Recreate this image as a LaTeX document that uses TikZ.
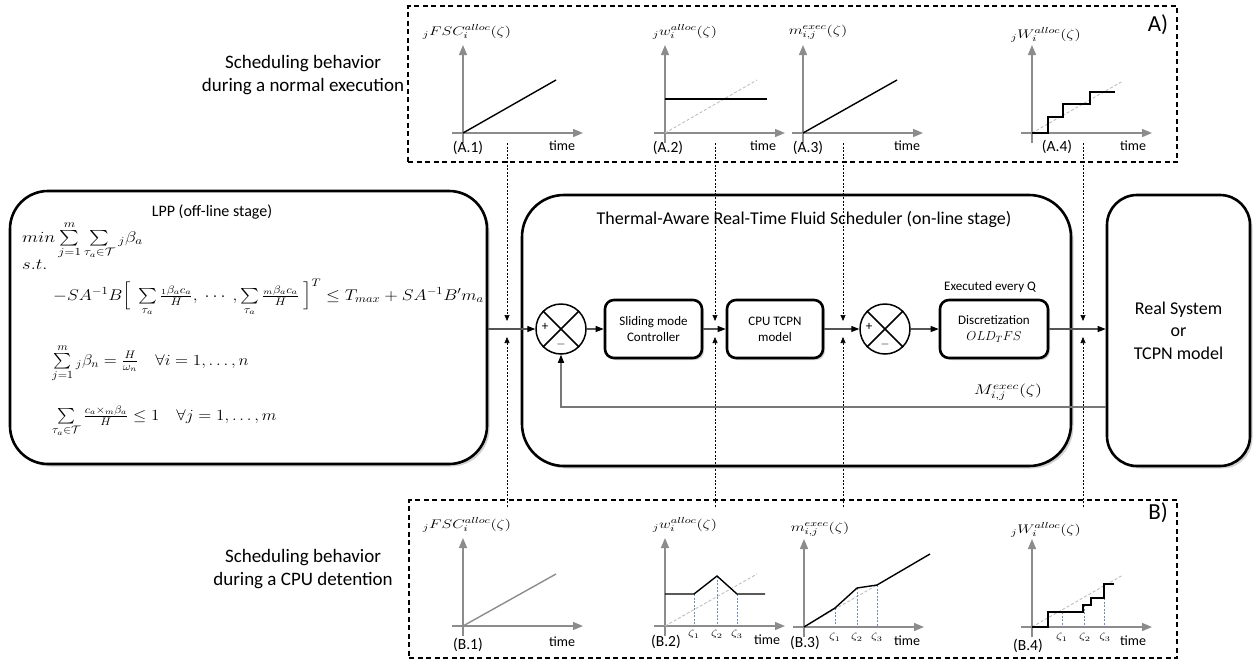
\RequirePackage{fix-cm}
\documentclass[tikz,border=0pt]{standalone}
\usepackage{amsmath,amssymb}
\usepackage{graphicx}
\usepackage{fontspec}
\setmainfont{Carlito}
\usetikzlibrary{arrows.meta,shadows}
\definecolor{axgray}{RGB}{140,140,140}
\definecolor{refgray}{RGB}{190,190,190}
\definecolor{zblue}{RGB}{110,140,185}
\definecolor{flowgray}{RGB}{85,85,85}
\newcommand{\mth}[1]{\scalebox{1.3}[1]{$#1$}}
\newcommand{\mthx}[2]{\scalebox{#1}[1]{$#2$}}
\newcommand{\plotaxes}[2]{%
  \draw[axisst] (#1-11,#2) -- (#1+120,#2);
  \draw[axisst] (#1,#2+10) -- (#1,#2-88);}
\begin{document}
\begin{tikzpicture}[x=1pt,y=-1pt,
  bigbox/.style={draw=black,line width=2.6pt,fill=white,drop shadow={shadow xshift=2.5pt,shadow yshift=-2.5pt,opacity=0.35}},
  blockbox/.style={draw=black,line width=2.6pt,rounded corners=9pt,fill=white,drop shadow={shadow xshift=2pt,shadow yshift=-2pt,opacity=0.35},minimum height=58pt,align=center,inner sep=0pt,font=\fontsize{13}{16}\selectfont},
  sumnode/.style={circle,draw=black,line width=1.5pt,minimum size=50pt,inner sep=0pt,fill=white},
  flow/.style={draw=flowgray,line width=1.1pt,-{Triangle[length=8pt,width=6pt,color=black]}},
  fback/.style={draw=flowgray!80,line width=1.1pt,-{Triangle[length=8pt,width=6pt,color=black]}},
  probe/.style={draw=black,line width=0.6pt,dash pattern=on 2pt off 1.6pt,-{Triangle[length=6pt,width=5pt]}},
  dashframe/.style={draw=black,line width=1.2pt,dash pattern=on 5pt off 3.5pt,inner sep=0pt},
  axisst/.style={draw=axgray,line width=1.4pt,-{Triangle[length=10pt,width=8pt]}},
  blackcurve/.style={draw=black,line width=1.4pt},
  refline/.style={draw=refgray,line width=0.9pt,dash pattern=on 3pt off 2pt},
  zline/.style={draw=zblue,line width=0.7pt,dash pattern=on 2pt off 1.5pt},
  bigtxt/.style={inner sep=0pt,font=\fontsize{19}{22.5}\selectfont,align=center},
  plab/.style={inner sep=0pt,font=\fontsize{15.5}{18}\selectfont},
  tlab/.style={inner sep=0pt,font=\fontsize{14}{17}\selectfont},
  mlab/.style={inner sep=0pt,font=\fontsize{12.5}{14}\selectfont},
  zlab/.style={inner sep=0pt,font=\fontsize{10}{11}\selectfont},
  eqn/.style={inner sep=0pt,anchor=base west,font=\fontsize{15.5}{19}\selectfont},
]
\useasboundingbox (0,0) rectangle (1254,662);

% dashed frames
\node[dashframe,minimum width=769pt,minimum height=156pt] (frameA) at (792.5,84) {};
\node[dashframe,minimum width=768pt,minimum height=158pt] (frameB) at (793,579) {};
\node[inner sep=0pt,font=\fontsize{23}{26}\selectfont] (labA) at (1158,25) {A)};
\node[inner sep=0pt,font=\fontsize{23}{26}\selectfont] (labB) at (1158,513) {B)};
\node[bigtxt] (descA) at (303,75) {Scheduling behavior\\during a normal execution};
\node[bigtxt] (descB) at (303,569) {Scheduling behavior\\during a CPU detention};

% big boxes
\node[bigbox,rounded corners=38pt,minimum width=477pt,minimum height=273pt] (lpp) at (248.5,327.5) {};
\node[bigbox,rounded corners=42pt,minimum width=549pt,minimum height=271pt] (sched) at (796.5,330.5) {};
\node[bigbox,rounded corners=30pt,minimum width=143pt,minimum height=271pt,align=center,font=\fontsize{18}{22.5}\selectfont] (real) at (1178.5,330.5) {Real System\\or\\TCPN model};

\node[inner sep=0pt,font=\fontsize{16}{19}\selectfont] (lpptitle) at (212,212) {LPP (off-line stage)};
\node[inner sep=0pt,font=\fontsize{18}{21}\selectfont] (schedtitle) at (804,219) {Thermal-Aware Real-Time Fluid Scheduler (on-line stage)};

% LPP equations
\node[eqn] (eq1) at (22,242) {\mthx{1.2}{min\sum\limits_{j=1}^{m}\sum\limits_{\tau_a\in\mathcal{T}}{}_j\beta_a}};
\node[eqn] (eq2) at (22,269) {\mthx{1.2}{s.t.}};
\node[eqn] (eq3) at (53,300) {\mthx{1.15}{-SA^{-1}B\Big[\ \sum\limits_{\tau_a}\tfrac{{}_1\beta_a c_a}{H},\ \cdots\ ,\sum\limits_{\tau_a}\tfrac{{}_m\beta_a c_a}{H}\ \Big]^T\leq T_{max}+SA^{-1}B'm_a}};
\node[eqn] (eq4) at (52,365) {\mthx{1.1}{\sum\limits_{j=1}^{m}{}_j\beta_n=\tfrac{H}{\omega_n}\quad\forall i=1,\ldots,n}};
\node[eqn] (eq5) at (52,420) {\mthx{1.1}{\sum\limits_{\tau_a\in\mathcal{T}}\tfrac{c_a\times{}_m\beta_a}{H}\leq 1\quad\forall j=1,\ldots,m}};

% control loop
\node[sumnode] (c1) at (561,329) {};
\draw[line width=1.5pt] (c1.north west) -- (c1.south east) (c1.north east) -- (c1.south west);
\node[inner sep=0pt,font=\fontsize{13}{13}\selectfont] (c1p) at (545,327) {+};
\node[inner sep=0pt,font=\fontsize{12}{12}\selectfont] (c1m) at (561,344) {$-$};
\node[sumnode] (c2) at (885,329) {};
\draw[line width=1.5pt] (c2.north west) -- (c2.south east) (c2.north east) -- (c2.south west);
\node[inner sep=0pt,font=\fontsize{13}{13}\selectfont] (c2p) at (869,327) {+};
\node[inner sep=0pt,font=\fontsize{12}{12}\selectfont] (c2m) at (885,344) {$-$};

\node[blockbox,minimum width=97pt] (slide) at (653.5,329) {Sliding mode\\Controller};
\node[blockbox,minimum width=96pt] (cpu) at (775,329) {CPU TCPN\\model};
\node[blockbox,minimum width=108pt] (disc) at (994,329) {Discretization\\$OLD_{T}FS$};
\node[inner sep=0pt,font=\fontsize{13}{16}\selectfont] (every) at (990,287) {Executed every Q};

\draw[flow] (lpp.east |- c1.west) -- (c1.west);
\draw[flow] (c1.east) -- (slide.west);
\draw[flow] (slide.east) -- (cpu.west);
\draw[flow] (cpu.east) -- (c2.west);
\draw[flow] (c2.east) -- (disc.west);
\draw[flow] (disc.east) -- (disc.east -| real.west);

\coordinate (fbturn) at (561,407);
\draw[fback] (real.west |- fbturn) -- (fbturn) -- (c1.south);
\node[inner sep=0pt,font=\fontsize{14}{16}\selectfont] (mlabel) at (1008,392) {\mth{M_{i,j}^{exec}(\zeta)}};

% probes
\foreach \x [count=\i] in {507,715,843,1083} {
  \coordinate (pa\i) at (\x,143);
  \coordinate (pb\i) at (\x,321);
  \coordinate (pc\i) at (\x,507);
  \coordinate (pd\i) at (\x,337);
  \draw[probe] (pa\i) -- (pb\i);
  \draw[probe] (pc\i) -- (pd\i);
}

% ---------- plots A ----------
\plotaxes{463}{133}
\draw[blackcurve] (463,133) -- (556,80);
\plotaxes{665}{133}
\draw[refline] (665,133) -- (757,80);
\draw[blackcurve] (665,99) -- (767,99);
\plotaxes{803}{133}
\draw[blackcurve] (803,133) -- (897,80);
\plotaxes{1032}{133}
\draw[refline] (1032,133) -- (1123,81);
\draw[blackcurve] (1032,133) -| (1048,117) -| (1063,104) -| (1090,92) -- (1115,92);

\node[mlab] (la1) at (467,32) {\mth{{}_jFSC_i^{alloc}(\zeta)}};
\node[mlab] (la2) at (685,32) {\mth{{}_jw_i^{alloc}(\zeta)}};
\node[mlab] (la3) at (818,32) {\mth{m_{i,j}^{exec}(\zeta)}};
\node[mlab] (la4) at (1046,35) {\mth{{}_jW_i^{alloc}(\zeta)}};
\node[plab] (na1) at (468,148) {(A.1)};
\node[plab] (na2) at (668,148) {(A.2)};
\node[plab] (na3) at (808,148) {(A.3)};
\node[plab] (na4) at (1057,147) {(A.4)};
\node[tlab] (ta1) at (562,146) {time};
\node[tlab] (ta2) at (763,146) {time};
\node[tlab] (ta3) at (907,146) {time};
\node[tlab] (ta4) at (1133,146) {time};

% ---------- plots B ----------
\plotaxes{463}{626}
\draw[draw=axgray,line width=1.4pt] (463,626) -- (556,574);
\plotaxes{665}{626}
\draw[refline] (665,626) -- (757,574);
\draw[zline] (694,594) -- (694,626) (717,576) -- (717,626) (737,594) -- (737,626);
\draw[blackcurve] (665,594) -- (694,594) -- (717,576) -- (737,594) -- (765,594);
\plotaxes{804}{627}
\draw[refline] (804,627) -- (877,585);
\draw[zline] (835,608) -- (835,627) (857,588) -- (857,627) (877,585) -- (877,627);
\draw[blackcurve] (804,627) -- (835,608) -- (857,588) -- (877,585) -- (930,554);
\plotaxes{1032}{627}
\draw[refline] (1032,627) -- (1123,575);
\draw[zline] (1062,612) -- (1062,627) (1084,605) -- (1084,627) (1104,584) -- (1104,627);
\draw[blackcurve] (1032,627) -| (1048,612) -| (1083,605) -| (1091,598) -| (1104,584) -- (1114,584);

\node[mlab] (lb1) at (467,525) {\mth{{}_jFSC_i^{alloc}(\zeta)}};
\node[mlab] (lb2) at (685,525) {\mth{{}_jw_i^{alloc}(\zeta)}};
\node[mlab] (lb3) at (820,529) {\mth{m_{i,j}^{exec}(\zeta)}};
\node[mlab] (lb4) at (1046,530) {\mth{{}_jW_i^{alloc}(\zeta)}};
\node[plab] (nb1) at (468,645) {(B.1)};
\node[plab] (nb2) at (666,642) {(B.2)};
\node[plab] (nb3) at (805,643) {(B.3)};
\node[plab] (nb4) at (1028,646) {(B.4)};
\node[tlab] (tb1) at (562,642) {time};
\node[tlab] (tb2) at (767,640) {time};
\node[tlab] (tb3) at (907,641) {time};
\node[tlab] (tb4) at (1133,641) {time};

\node[zlab] (z21) at (694,634) {\mth{\zeta_1}};
\node[zlab] (z22) at (717,634) {\mth{\zeta_2}};
\node[zlab] (z23) at (737,634) {\mth{\zeta_3}};
\node[zlab] (z31) at (835,637) {\mth{\zeta_1}};
\node[zlab] (z32) at (857,637) {\mth{\zeta_2}};
\node[zlab] (z33) at (877,637) {\mth{\zeta_3}};
\node[zlab] (z41) at (1062,637) {\mth{\zeta_1}};
\node[zlab] (z42) at (1085,637) {\mth{\zeta_2}};
\node[zlab] (z43) at (1105,637) {\mth{\zeta_3}};
\end{tikzpicture}
\end{document}
